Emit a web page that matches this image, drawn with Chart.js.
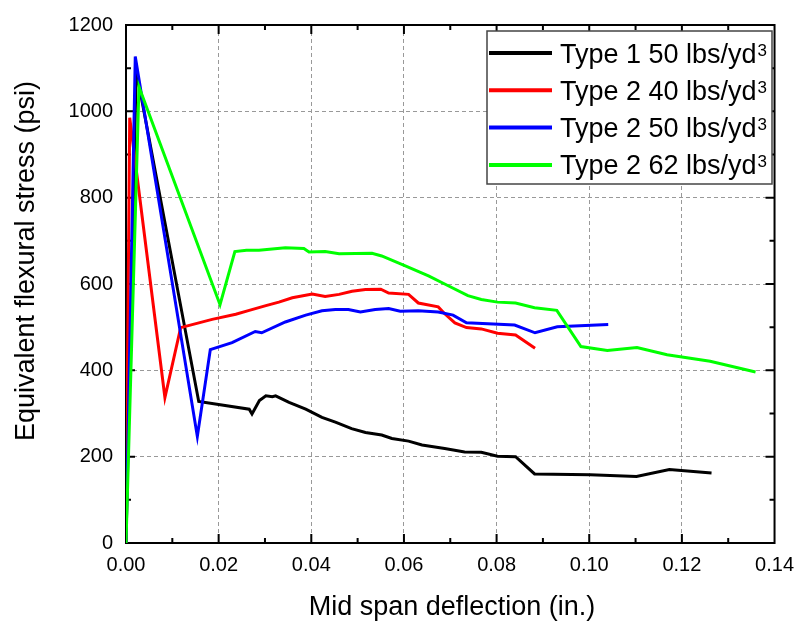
<!DOCTYPE html>
<html>
<head>
<meta charset="utf-8">
<script src="https://cdn.jsdelivr.net/npm/chart.js@4.4.0/dist/chart.umd.min.js"></script>
<style>
  html, body { margin: 0; padding: 0; background: #fff; }
</style>
</head>
<body>
<canvas id="myChart" width="804" height="626"></canvas>
<script>
const FONT = '"Liberation Sans", Arial, sans-serif';

// legend names, the "3" of yd3 is drawn as superscript
const seriesNames = ['Type 1 50 lbs/yd', 'Type 2 40 lbs/yd', 'Type 2 50 lbs/yd', 'Type 2 62 lbs/yd'];
const seriesColors = ['#000000', '#ff0000', '#0000ff', '#00ff00'];

// Type 1 50 lbs/yd3
const type1_50_x = [0, 0.0022, 0.0157, 0.0266, 0.0272, 0.0288, 0.0302, 0.0316, 0.0323, 0.0352, 0.0388, 0.0423, 0.0452, 0.0487, 0.0517, 0.0552, 0.0574, 0.061, 0.0639, 0.0688, 0.0731, 0.0767, 0.0802, 0.0841, 0.0882, 0.1002, 0.1102, 0.1173, 0.1264];
const type1_50_y = [0, 1095, 328, 310, 299, 330, 341, 339, 341, 326, 310, 291, 280, 265, 256, 250, 242, 236, 227, 219, 211, 210, 201, 200, 160, 158, 154, 170, 162];

// Type 2 40 lbs/yd3
const type2_40_x = [0, 0.0008, 0.0084, 0.0118, 0.0186, 0.0237, 0.0266, 0.0302, 0.033, 0.0359, 0.0402, 0.043, 0.046, 0.0488, 0.0517, 0.055, 0.0567, 0.061, 0.0631, 0.0674, 0.0688, 0.071, 0.0735, 0.0767, 0.0802, 0.0841, 0.0883];
const type2_40_y = [0, 985, 337, 499, 518, 530, 539, 550, 558, 568, 577, 571, 576, 583, 587, 588, 579, 576, 556, 547, 531, 510, 499, 496, 486, 482, 451];

// Type 2 50 lbs/yd3
const type2_50_x = [0, 0.002, 0.0154, 0.0182, 0.0229, 0.0279, 0.0293, 0.0344, 0.0388, 0.0423, 0.0452, 0.048, 0.0506, 0.0538, 0.0567, 0.0592, 0.0631, 0.0674, 0.0706, 0.0735, 0.0839, 0.0883, 0.0931, 0.1041];
const type2_50_y = [0, 1127, 247, 448, 464, 490, 487, 512, 528, 538, 541, 541, 535, 541, 543, 537, 538, 535, 528, 510, 505, 487, 501, 506];

// Type 2 62 lbs/yd3
const type2_62_x = [0, 0.0028, 0.0203, 0.0235, 0.026, 0.0287, 0.0344, 0.0384, 0.0395, 0.043, 0.046, 0.0531, 0.0552, 0.0603, 0.0653, 0.0688, 0.0738, 0.0767, 0.0802, 0.0841, 0.0882, 0.093, 0.0982, 0.1039, 0.1103, 0.1168, 0.1261, 0.1359];
const type2_62_y = [0, 1057, 552, 675, 678, 678, 684, 682, 674, 675, 670, 671, 665, 642, 619, 600, 573, 564, 558, 556, 545, 539, 455, 446, 453, 436, 421, 396];

const xTicks = [0, 0.02, 0.04, 0.06, 0.08, 0.10, 0.12, 0.14];
const yTicks = [0, 200, 400, 600, 800, 1000, 1200];

const allX = [type1_50_x, type2_40_x, type2_50_x, type2_62_x];
const allY = [type1_50_y, type2_40_y, type2_50_y, type2_62_y];

function toPoints(xs, ys) {
  return xs.map((x, i) => ({ x: x, y: ys[i] }));
}

// frame with inward ticks on all four sides
const framePlugin = {
  id: 'frame',
  beforeDatasetsDraw(chart) {
    const { ctx, chartArea: a, scales } = chart;
    ctx.save();
    ctx.strokeStyle = '#000';
    ctx.lineWidth = 2;
    ctx.strokeRect(a.left, a.top, a.right - a.left, a.bottom - a.top);
    ctx.beginPath();
    for (let i = 1; i < 14; i++) {
      const px = scales.x.getPixelForValue(i * 0.01);
      const len = i % 2 === 0 ? 9 : 5;
      ctx.moveTo(px, a.bottom); ctx.lineTo(px, a.bottom - len);
      ctx.moveTo(px, a.top); ctx.lineTo(px, a.top + len);
    }
    for (let i = 1; i < 12; i++) {
      const py = scales.y.getPixelForValue(i * 100);
      const len = i % 2 === 0 ? 9 : 5;
      ctx.moveTo(a.left, py); ctx.lineTo(a.left + len, py);
      ctx.moveTo(a.right, py); ctx.lineTo(a.right - len, py);
    }
    ctx.stroke();
    ctx.restore();
  },
  afterDraw(chart) {
    const { ctx } = chart;
    ctx.save();
    ctx.fillStyle = '#000';
    // axis titles
    ctx.font = '27px ' + FONT;
    ctx.textAlign = 'center';
    ctx.textBaseline = 'alphabetic';
    ctx.fillText('Mid span deflection (in.)', 452, 615);
    ctx.save();
    ctx.translate(34, 261);
    ctx.rotate(-Math.PI / 2);
    ctx.fillText('Equivalent flexural stress (psi)', 0, 0);
    ctx.restore();

    // legend
    ctx.fillStyle = '#fff';
    ctx.fillRect(487, 31, 285, 153);
    ctx.strokeStyle = '#444';
    ctx.lineWidth = 1.5;
    ctx.strokeRect(487, 31, 285, 153);
    ctx.textAlign = 'left';
    seriesNames.forEach((name, i) => {
      const ry = 53 + i * 37.3;
      ctx.strokeStyle = seriesColors[i];
      ctx.lineWidth = 4;
      ctx.beginPath();
      ctx.moveTo(489, ry);
      ctx.lineTo(552, ry);
      ctx.stroke();
      ctx.fillStyle = '#000';
      ctx.font = '27px ' + FONT;
      ctx.fillText(name, 560, ry + 9.5);
      const w = ctx.measureText(name).width;
      ctx.font = '17px ' + FONT;
      ctx.fillText('3', 560 + w + 1, ry + 2.5);
    });
    ctx.restore();
  }
};

const ctx = document.getElementById('myChart');
const myChart = new Chart(ctx, {
  type: 'scatter',
  data: {
    datasets: seriesNames.map((name, i) => ({
      label: name + '3',
      data: toPoints(allX[i], allY[i]),
      showLine: true,
      borderColor: seriesColors[i],
      backgroundColor: seriesColors[i],
      borderWidth: 3,
      pointRadius: 0,
      tension: 0,
      order: 4 - i,
    })),
  },
  options: {
    responsive: false,
    animation: false,
    layout: { padding: { left: 0, right: 25.5, top: 17, bottom: 0 } },
    plugins: {
      legend: { display: false },
      tooltip: { enabled: false },
    },
    scales: {
      x: {
        type: 'linear',
        min: 0,
        max: 0.14,
        afterBuildTicks: (s) => { s.ticks = xTicks.map((v) => ({ value: v })); },
        afterFit: (s) => { s.height = 83; },
        ticks: {
          color: '#000',
          font: { family: FONT, size: 20 },
          padding: 10,
          maxRotation: 0,
          callback: (v) => v.toFixed(2),
        },
        grid: { color: '#999999', lineWidth: 1, drawTicks: false },
        border: { display: false, dash: [4, 3] },
      },
      y: {
        min: 0,
        max: 1200,
        afterBuildTicks: (s) => { s.ticks = yTicks.map((v) => ({ value: v })); },
        afterFit: (s) => { s.width = 126; },
        ticks: {
          color: '#000',
          font: { family: FONT, size: 20 },
          padding: 13,
          callback: (v) => String(v),
        },
        grid: { color: '#999999', lineWidth: 1, drawTicks: false },
        border: { display: false, dash: [4, 3] },
      },
    },
  },
  plugins: [framePlugin],
});
</script>
</body>
</html>
